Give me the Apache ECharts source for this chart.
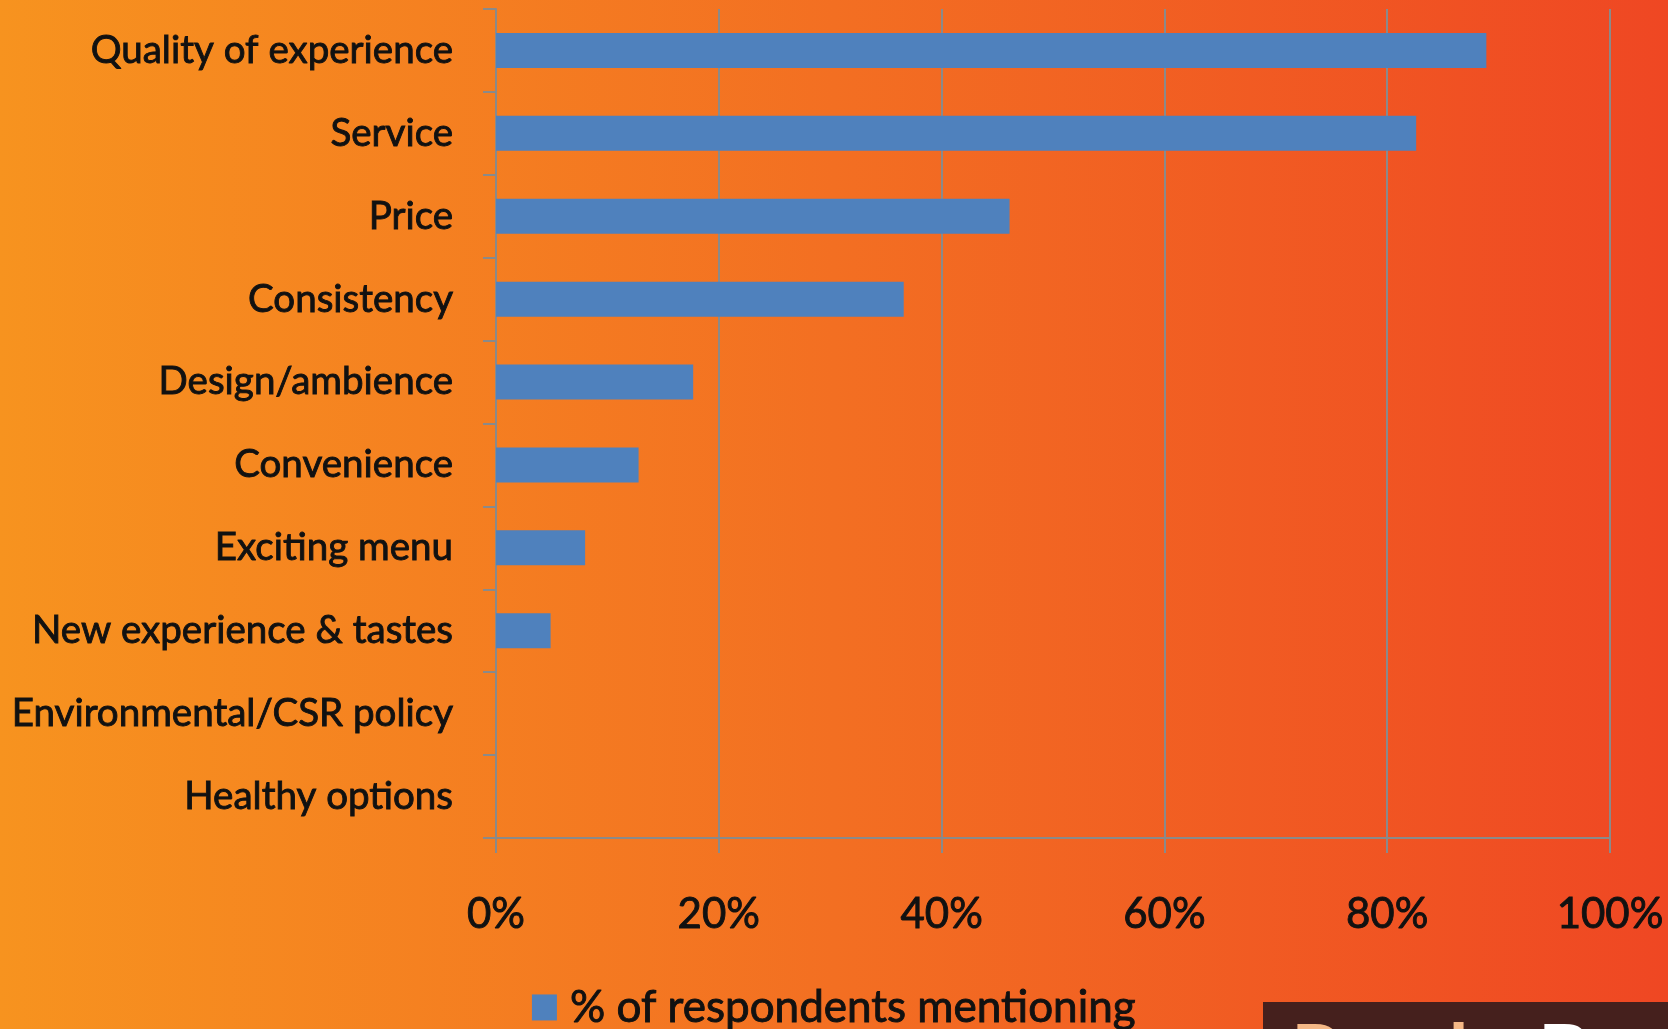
<!DOCTYPE html>
<html>
<head>
<meta charset="utf-8">
<script src="https://cdn.jsdelivr.net/npm/echarts@6/dist/echarts.min.js"></script>
<style>
  html, body { margin: 0; padding: 0; }
  #chart { width: 1668px; height: 1029px; }
</style>
</head>
<body>
<div id="chart"></div>
<script>
// survey answers, listed top to bottom as in the slide
const categories = [
  'Quality of experience', 'Service', 'Price', 'Consistency', 'Design/ambience',
  'Convenience', 'Exciting menu', 'New experience & tastes',
  'Environmental/CSR policy', 'Healthy options'
];
const mentionPct = [88.9, 82.6, 46.1, 36.6, 17.7, 12.8, 8.0, 4.9, 0, 0];
const seriesName = '% of respondents mentioning';
const pctTicks = [0, 20, 40, 60, 80, 100];

const FONT = 'Lato, "Open Sans", sans-serif';
const GREY = '#8a8a8a';
const INK = '#111';
// slide text is heavier than plain Lato, a thin stroke thickens it
const heavy = { textBorderColor: INK, textBorderWidth: 0.9 };

const chart = echarts.init(document.getElementById('chart'));

chart.setOption({
  backgroundColor: new echarts.graphic.LinearGradient(0, 0, 1, 0, [
    { offset: 0, color: '#f7931f' },
    { offset: 0.5, color: '#f36f22' },
    { offset: 1, color: '#ef4723' }
  ]),
  animation: false,
  textStyle: { fontFamily: FONT },
  grid: { left: 496, right: 58, top: 9, bottom: 191, containLabel: false },
  legend: {
    data: [seriesName],
    left: 'center',
    top: 980,
    icon: 'rect',
    itemWidth: 25,
    itemHeight: 26,
    textStyle: Object.assign({ fontFamily: FONT, fontSize: 44, color: INK, padding: [0, 0, 0, 8] }, heavy)
  },
  xAxis: {
    type: 'value',
    min: pctTicks[0],
    max: pctTicks[pctTicks.length - 1],
    interval: pctTicks[1] - pctTicks[0],
    axisLine: { show: true, lineStyle: { color: GREY, width: 2 } },
    axisTick: { show: true, length: 15, lineStyle: { color: GREY, width: 2 } },
    splitLine: { show: true, lineStyle: { color: GREY, width: 2 } },
    axisLabel: Object.assign({
      formatter: '{value}%',
      fontFamily: FONT, fontSize: 42, color: INK, margin: 55
    }, heavy)
  },
  yAxis: {
    type: 'category',
    inverse: true,
    data: categories,
    axisLine: { show: true, lineStyle: { color: GREY, width: 2 } },
    axisTick: { show: true, length: 13, lineStyle: { color: GREY, width: 2 } },
    axisLabel: Object.assign({ fontFamily: FONT, fontSize: 38.5, color: INK, margin: 43 }, heavy)
  },
  series: [{
    name: seriesName,
    type: 'bar',
    data: mentionPct,
    barWidth: 35,
    itemStyle: { color: '#4f81bd' }
  }],
  graphic: [
    {
      type: 'rect', left: 1263, top: 1002,
      shape: { width: 405, height: 27 },
      style: { fill: '#45201d' }
    },
    {
      type: 'text', left: 1291, top: 1016,
      style: { text: 'Read', fill: '#f5b886', font: 'bold 80px Lato, sans-serif' }
    },
    {
      type: 'text', left: 1538, top: 1016,
      style: { text: 'Bo', fill: '#ffffff', font: 'bold 80px Lato, sans-serif' }
    }
  ]
});
</script>
</body>
</html>
